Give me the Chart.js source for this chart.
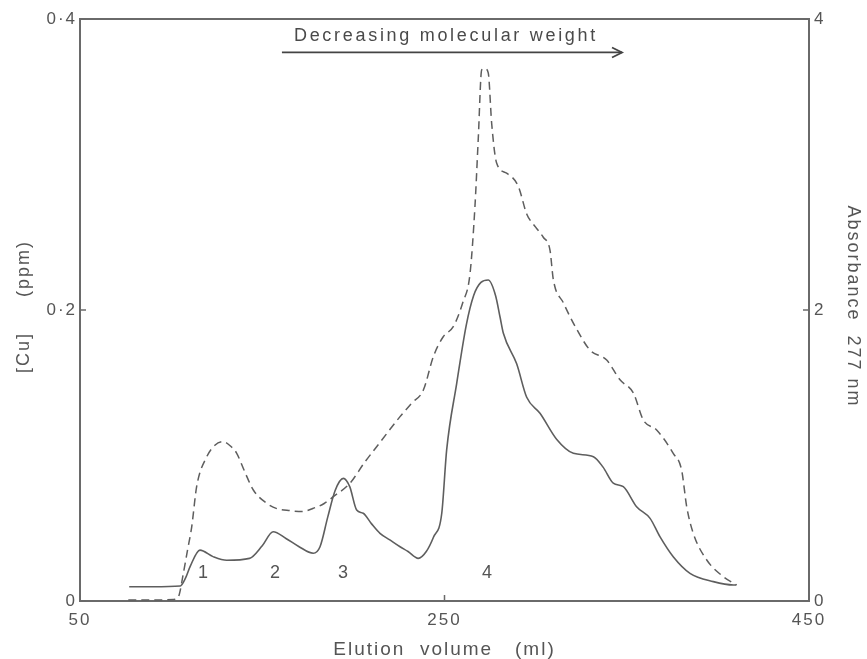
<!DOCTYPE html>
<html><head><meta charset="utf-8">
<script src="https://cdn.jsdelivr.net/npm/chart.js@4.4.1/dist/chart.umd.min.js"></script>
<style>html,body{margin:0;padding:0;background:#fff;overflow:hidden}canvas{display:block}</style>
</head><body>
<canvas id="c" width="867" height="659"></canvas>
<script>
// ---- data ----
const cuVolume = [77, 90, 105, 108, 110.4, 115.8, 123, 130.5, 143, 150, 156, 163, 170, 178, 181.7, 186, 190, 194.5, 198, 201.8, 205.4, 210, 214.6, 220, 225.6, 230, 235.6, 240, 244, 248.5, 251.2, 256.7, 262, 266, 270, 274, 278, 280.5, 282.3, 289.6, 295.1, 302.4, 311.6, 320.7, 331.7, 337, 342.6, 348.1, 355.4, 362.8, 368.2, 375.5, 384.7, 397.5, 408.5, 410];
const cuPpm = [0.0098, 0.0098, 0.0103, 0.016, 0.0236, 0.035, 0.0305, 0.028, 0.0293, 0.038, 0.0476, 0.043, 0.0375, 0.0328, 0.0373, 0.058, 0.076, 0.0843, 0.0786, 0.0625, 0.0603, 0.053, 0.0465, 0.042, 0.0373, 0.034, 0.0293, 0.034, 0.044, 0.0603, 0.104, 0.1496, 0.19, 0.21, 0.219, 0.2206, 0.21, 0.195, 0.184, 0.163, 0.14, 0.129, 0.111, 0.1015, 0.0992, 0.092, 0.081, 0.0786, 0.0648, 0.0568, 0.0442, 0.0304, 0.019, 0.0133, 0.011, 0.011];
const absVolume = [76.5, 90, 101.2, 104, 106.7, 109, 111.3, 114, 119.5, 124, 128.6, 133, 136, 140, 145.1, 152.4, 158, 165.2, 172, 178, 184, 189, 198.1, 206, 214.6, 225.6, 232, 238.4, 243.9, 249.3, 254.8, 260, 264, 266.7, 268.5, 270.4, 272.2, 274, 275.9, 278.6, 284.1, 290.5, 295.1, 300, 304.2, 307.9, 309.7, 315.2, 322, 329.8, 339, 346.3, 353.6, 359.1, 366.4, 375.5, 380.1, 382.9, 386.5, 393.9, 403, 410.3];
const absValue = [0.007, 0.007, 0.01, 0.03, 0.19, 0.35, 0.51, 0.786, 0.99, 1.07, 1.095, 1.06, 1.015, 0.9, 0.763, 0.672, 0.635, 0.621, 0.615, 0.637, 0.67, 0.717, 0.809, 0.95, 1.09, 1.267, 1.36, 1.45, 1.68, 1.816, 1.885, 2.05, 2.25, 2.71, 3.17, 3.65, 3.66, 3.63, 3.28, 3.01, 2.94, 2.85, 2.66, 2.57, 2.5, 2.41, 2.21, 2.05, 1.88, 1.725, 1.656, 1.52, 1.43, 1.244, 1.175, 1.015, 0.9, 0.648, 0.465, 0.282, 0.167, 0.11];
const xTicks = [50, 250, 450];
const cuTicks = [0, 0.2, 0.4];
const absTicks = [0, 2, 4];
const peakNames = ['1', '2', '3', '4'];
const peakVolume = [117.5, 157, 194.3, 273.3];
const peakLabelCu = 0.0192;
const arrowText = 'Decreasing molecular weight';
const arrowVolume = [160.8, 347.4];
const arrowCu = 0.377;
const arrowTextVolume = 250.8;
const arrowTextCu = 0.388;

// ---- styles ----
const ink = '#555';
const lineInk = '#5e5e5e';
const axisInk = '#6a6a6a';
const fam = '"Liberation Sans", Arial, Helvetica, sans-serif';

const fmt = v => String(v).replace('.', '\u00B7');

const decor = {
  id: 'decor',
  beforeLayout(chart) { chart.ctx.letterSpacing = '2px'; },
  beforeDraw(chart) { chart.ctx.letterSpacing = '2px'; },
  afterDraw(chart) {
    const {ctx, chartArea: a, scales} = chart;
    const xs = scales.x, ys = scales.y, y1 = scales.y1;
    ctx.save();
    ctx.strokeStyle = axisInk;
    ctx.lineWidth = 2;
    ctx.beginPath(); ctx.moveTo(a.left - 1, a.top); ctx.lineTo(a.right + 1, a.top); ctx.stroke();
    ctx.lineWidth = 1.5;
    ctx.beginPath();
    xTicks.forEach(v => { const p = xs.getPixelForValue(v); ctx.moveTo(p, a.bottom); ctx.lineTo(p, a.bottom - 6); });
    cuTicks.forEach(v => { const p = ys.getPixelForValue(v); ctx.moveTo(a.left, p); ctx.lineTo(a.left + 6, p); });
    absTicks.forEach(v => { const p = y1.getPixelForValue(v); ctx.moveTo(a.right, p); ctx.lineTo(a.right - 6, p); });
    ctx.stroke();
    // peak labels
    ctx.letterSpacing = '0px';
    ctx.fillStyle = ink;
    ctx.font = '18px ' + fam;
    ctx.textAlign = 'center'; ctx.textBaseline = 'middle';
    peakNames.forEach((n, i) => ctx.fillText(n, xs.getPixelForValue(peakVolume[i]), ys.getPixelForValue(peakLabelCu)));
    // arrow annotation
    const x0 = xs.getPixelForValue(arrowVolume[0]), x1 = xs.getPixelForValue(arrowVolume[1]);
    const ya = ys.getPixelForValue(arrowCu);
    ctx.strokeStyle = '#444'; ctx.lineWidth = 1.8;
    ctx.beginPath(); ctx.moveTo(x0, ya); ctx.lineTo(x1, ya); ctx.stroke();
    ctx.beginPath(); ctx.moveTo(x1 - 10, ya - 5); ctx.lineTo(x1, ya); ctx.lineTo(x1 - 10, ya + 5); ctx.stroke();
    ctx.letterSpacing = '2.7px';
    ctx.font = '18px ' + fam;
    ctx.fillStyle = '#4a4a4a';
    ctx.fillText(arrowText, xs.getPixelForValue(arrowTextVolume), ys.getPixelForValue(arrowTextCu));
    ctx.restore();
  }
};

const tickFont = {family: fam, size: 17};

new Chart(document.getElementById('c'), {
  type: 'line',
  data: {
    datasets: [
      {
        label: '[Cu] (ppm)',
        data: cuVolume.map((v, i) => ({x: v, y: cuPpm[i]})),
        yAxisID: 'y',
        borderColor: lineInk, borderWidth: 1.6,
        pointRadius: 0, cubicInterpolationMode: 'monotone', fill: false
      },
      {
        label: 'Absorbance 277 nm',
        data: absVolume.map((v, i) => ({x: v, y: absValue[i]})),
        yAxisID: 'y1',
        borderColor: lineInk, borderWidth: 1.5, borderDash: [8, 5],
        pointRadius: 0, cubicInterpolationMode: 'monotone', fill: false
      }
    ]
  },
  options: {
    responsive: false,
    animation: false,
    devicePixelRatio: 1,
    layout: {padding: {top: 19, left: 0, right: 0, bottom: 0}},
    plugins: {legend: {display: false}, tooltip: {enabled: false}},
    scales: {
      x: {
        type: 'linear', min: 50, max: 450,
        afterBuildTicks: s => { s.ticks = xTicks.map(v => ({value: v})); },
        afterFit: s => { s.height = 58; },
        grid: {display: false, drawTicks: false},
        border: {display: true, color: axisInk, width: 2},
        ticks: {color: ink, font: tickFont, padding: 9, maxRotation: 0, callback: v => fmt(v)},
        title: {display: true, text: 'Elution  volume   (ml)', color: ink, font: {family: fam, size: 19, lineHeight: 1}, padding: 0}
      },
      y: {
        type: 'linear', position: 'left', min: 0, max: 0.4,
        afterBuildTicks: s => { s.ticks = cuTicks.map(v => ({value: v})); },
        afterFit: s => { s.width = 80; },
        grid: {display: false, drawTicks: false},
        border: {display: true, color: axisInk, width: 2},
        ticks: {color: ink, font: tickFont, padding: 3, callback: v => fmt(v)},
        title: {display: true, text: ' [Cu]     (ppm)', color: ink, font: {family: fam, size: 18, lineHeight: 1.2}, padding: {top: 13}}
      },
      y1: {
        type: 'linear', position: 'right', min: 0, max: 4,
        afterBuildTicks: s => { s.ticks = absTicks.map(v => ({value: v})); },
        afterFit: s => { s.width = 58; },
        grid: {display: false, drawTicks: false},
        border: {display: true, color: axisInk, width: 2},
        ticks: {color: ink, font: tickFont, padding: 5, callback: v => fmt(v)},
        title: {display: true, text: 'Absorbance  277 nm ', color: ink, font: {family: fam, size: 18, lineHeight: 1.2}, padding: {top: 3}}
      }
    }
  },
  plugins: [decor]
});
</script>
</body></html>
